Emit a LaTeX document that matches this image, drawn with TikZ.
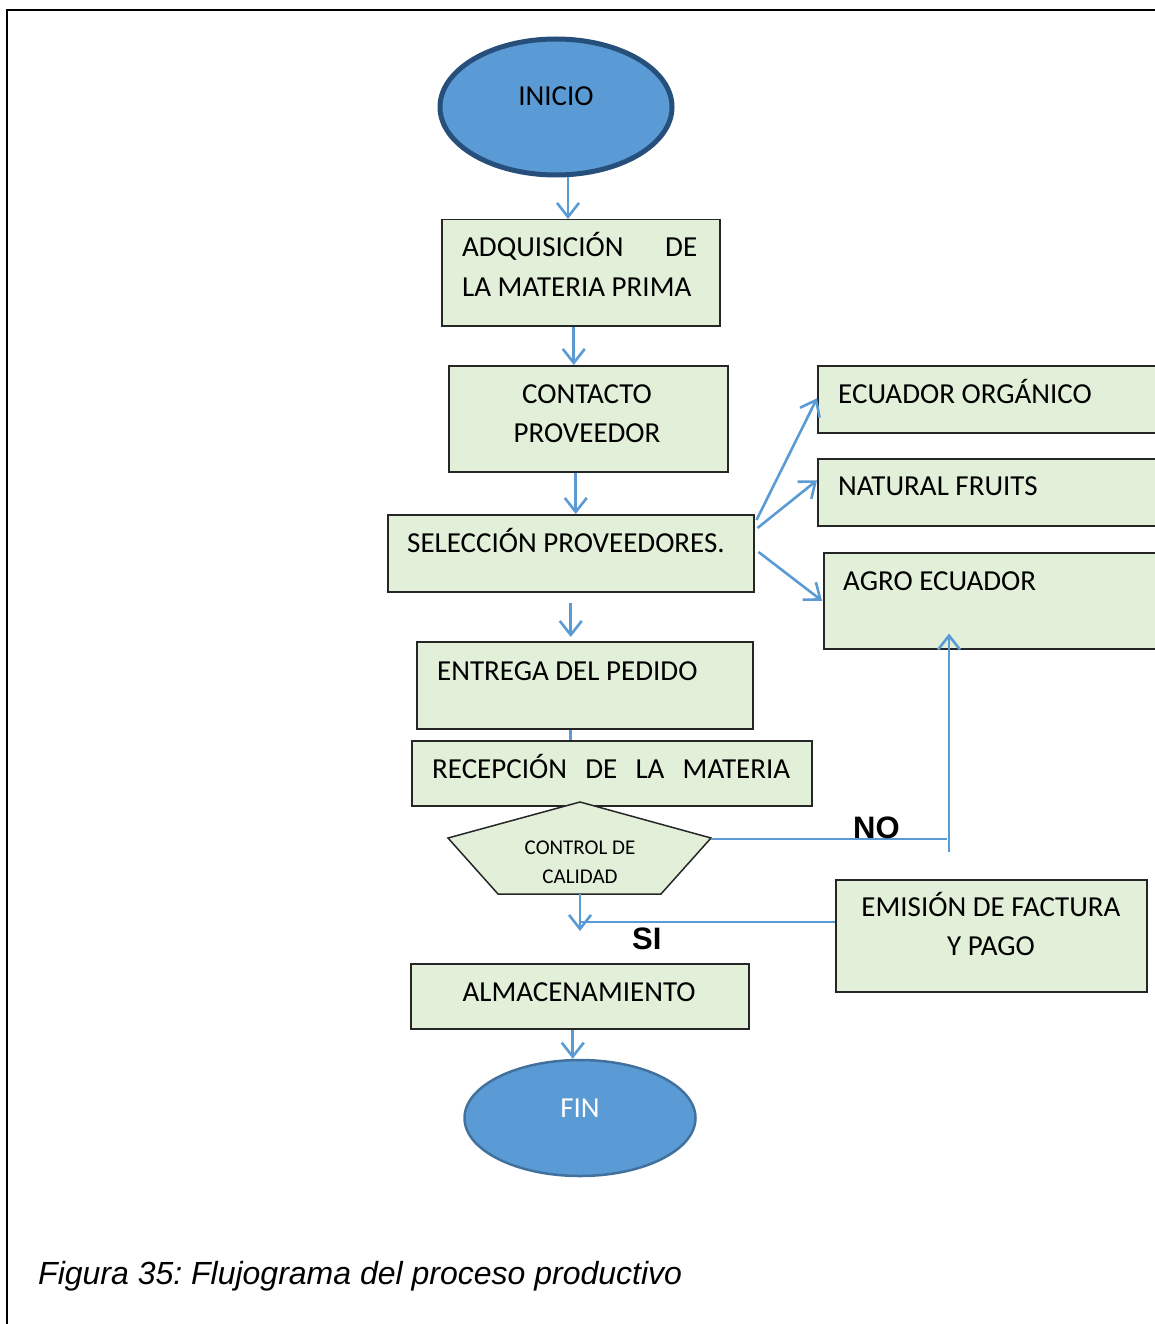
\documentclass[tikz,border=0pt]{standalone}
\usepackage{fontspec}
\setmainfont{Carlito}
\newfontfamily\capfont{Liberation Sans}
\usetikzlibrary{arrows.meta,calc,shapes.geometric}

\definecolor{boxfill}{HTML}{E2EFD9}
\definecolor{flow}{HTML}{5B9BD5}
\definecolor{termfill}{HTML}{5B9BD5}
\definecolor{termedge}{HTML}{264F7C}
\definecolor{finedge}{HTML}{41719C}

\frenchspacing
\begin{document}
\begin{tikzpicture}[x=1pt,y=-1pt,
  box/.style={draw=black!85, fill=boxfill, line width=1.5pt, inner sep=0pt, anchor=north west},
  lbl/.style={font=\fontsize{29}{35}\selectfont, inner sep=0pt},
  small/.style={font=\fontsize{21}{25}\selectfont, inner sep=0pt, anchor=base},
  arr/.style={draw=flow, line width=2.6pt, -{Straight Barb[length=14pt,width=22pt,line width=2.6pt]}},
  thinline/.style={draw=flow, line width=1.6pt},
  term/.style={ellipse, fill=termfill, inner sep=0pt},
  answer/.style={font=\capfont\bfseries\fontsize{31}{31}\selectfont, inner sep=0pt, anchor=base west},
]
\clip (0,0) rectangle (1155,1324);

% page frame (left and top edges)
\draw[line width=2.5pt] (7,1340) -- (7,10) -- (1170,10);

% terminals
\node[term, draw=termedge, line width=5pt, minimum width=232pt, minimum height=136pt] (ini) at (556,107) {};
\node[lbl, anchor=base] (tini) at (556,106) {INICIO};

% process boxes
\node[box, minimum width=278pt, minimum height=106pt] (adq) at (441,219) {};
\node[box, minimum width=279pt, minimum height=106pt] (con) at (448,365) {};
\node[box, minimum width=366pt, minimum height=77pt] (sel) at (387,514) {};
\node[box, minimum width=336pt, minimum height=87pt] (ent) at (416,641) {};
\node[box, minimum width=400pt, minimum height=65pt] (rec) at (411,740) {};
\node[box, minimum width=338pt, minimum height=65pt] (alm) at (410,963) {};
\node[box, minimum width=360pt, minimum height=67pt] (eco) at (817,365) {};
\node[box, minimum width=360pt, minimum height=67pt] (nat) at (817,458) {};
\node[box, minimum width=360pt, minimum height=96pt] (agr) at (823,552) {};
\node[box, minimum width=311pt, minimum height=112pt] (emi) at (835,879) {};

% quality control pentagon
\coordinate (qcT) at (580,802);
\coordinate (qcR) at (711,838);
\coordinate (qcB) at (580,894);
\draw[draw=black!85, fill=boxfill, line width=1.5pt]
  (qcT) -- (qcR) -- (661,894) -- (498,894) -- (448,838) -- cycle;

% box texts
\node[lbl, anchor=base west] (t1a) at (462,257) {\makebox[235pt]{ADQUISICIÓN\hfill DE}};
\node[lbl, anchor=base west] (t1b) at (462,296) {LA MATERIA PRIMA};
\node[lbl, anchor=base] (t2a) at (587,403) {CONTACTO};
\node[lbl, anchor=base] (t2b) at (587,442) {PROVEEDOR};
\node[lbl, anchor=base west] (t3) at (407,552) {SELECCIÓN PROVEEDORES.};
\node[lbl, anchor=base west] (t4) at (437,680) {ENTREGA DEL PEDIDO};
\node[lbl, anchor=base west] (t5) at (432,778) {\makebox[358pt]{RECEPCIÓN\hfill DE\hfill LA\hfill MATERIA}};
\node[small] (t6a) at (580,854) {CONTROL DE};
\node[small] (t6b) at (580,883) {CALIDAD};
\node[lbl, anchor=base] (t7) at (579,1001) {ALMACENAMIENTO};
\node[lbl, anchor=base west] (t8) at (838,403) {ECUADOR ORGÁNICO};
\node[lbl, anchor=base west] (t9) at (838,495) {NATURAL FRUITS};
\node[lbl, anchor=base west] (t10) at (843,590) {AGRO ECUADOR};
\node[lbl, anchor=base] (t11a) at (991,916) {EMISIÓN DE FACTURA};
\node[lbl, anchor=base] (t11b) at (991,955) {Y PAGO};

\node[term, draw=finedge, line width=2.5pt, minimum width=231pt, minimum height=116pt] (fin) at (580,1118) {};
\node[lbl, anchor=base, text=white] (tfin) at (580,1117) {FIN};

% main flow
\draw[arr] ([xshift=12pt]ini.south) -- ([xshift=12pt]ini.south |- adq.north);
\draw[arr] ([xshift=-7pt]adq.south) -- ([xshift=-7pt]adq.south |- con.north);
\draw[arr] ([xshift=-12.5pt]con.south) -- ([xshift=-12.5pt]con.south |- sel.north);
\draw[arr] ([yshift=-10pt]sel.south) -- ([yshift=4pt]sel.south |- ent.north);
\draw[draw=flow, line width=2.6pt] ([xshift=-14pt]ent.south) -- ([xshift=-14pt]ent.south |- rec.north);
\draw[arr] ([xshift=-7pt]alm.south) -- ([xshift=-7pt]alm.south |- fin.north);

% suppliers
\draw[arr] ([shift={(2,6)}]sel.north east) -- ([yshift=1pt]eco.west);
\draw[arr] ([shift={(3,14)}]sel.north east) -- ([yshift=12pt]nat.west);
\draw[arr] ([shift={(4,38)}]sel.north east) -- ([xshift=-1pt]agr.west);

% quality decision
\coordinate (noEnd) at (947,839);
\coordinate (noUp) at (949,852);
\draw[thinline] (qcR |- noEnd) -- (noEnd);
\draw[arr] (noUp) -- ($(noUp |- agr.south)+(0,-16)$);
\node[answer] (no) at (853,838) {NO};

\coordinate (siJoin) at (580,922);
\coordinate (siTip) at (580,931);
\draw[arr] (qcB) -- (siTip);
\draw[thinline] (emi.west |- siJoin) -- (siJoin);
\node[answer] (si) at (632,949) {SI};

% caption
\node[font=\capfont\itshape\fontsize{32}{36}\selectfont, inner sep=0pt, anchor=base west] (cap) at (38,1284)
  {Figura 35: Flujograma del proceso productivo};
\end{tikzpicture}
\end{document}
